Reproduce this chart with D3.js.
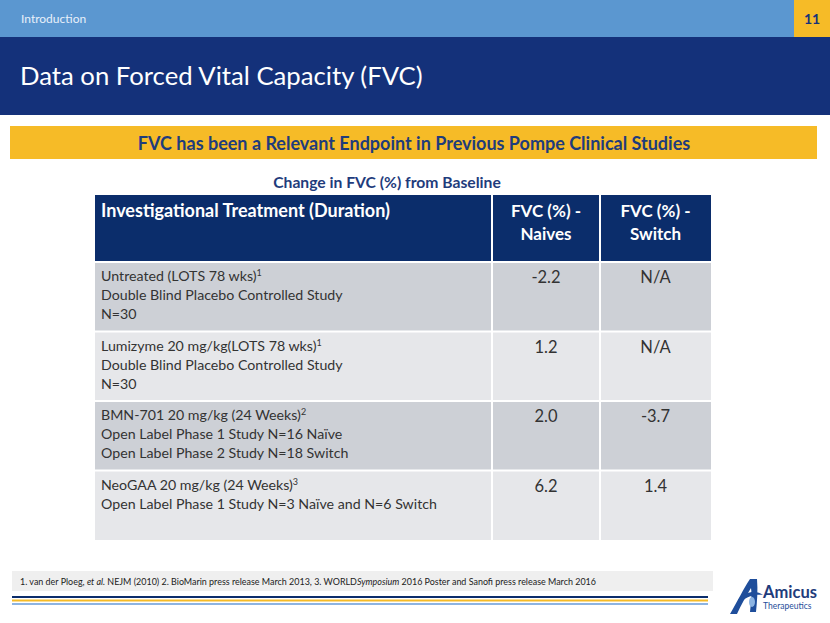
<!DOCTYPE html>
<html>
<head>
<meta charset="utf-8">
<script src="https://cdn.jsdelivr.net/npm/d3@7"></script>
<style>
  html, body { margin: 0; padding: 0; background: #fff; }
  svg { display: block; font-family: Lato, "Open Sans", sans-serif; }
</style>
</head>
<body>
<svg id="slide" width="830" height="623"></svg>
<script>
// ---------- data ----------
const sectionLabel = "Introduction";
const pageNumber = "11";
const slideTitle = "Data on Forced Vital Capacity (FVC)";
const bannerText = "FVC has been a Relevant Endpoint in Previous Pompe Clinical Studies";
const tableTitle = "Change in FVC (%) from Baseline";
const columnHeaders = [["Investigational Treatment (Duration)"], ["FVC (%) -", "Naives"], ["FVC (%) -", "Switch"]];
const treatments = [
  "Untreated (LOTS 78 wks)",
  "Lumizyme 20 mg/kg(LOTS 78 wks)",
  "BMN-701 20 mg/kg (24 Weeks)",
  "NeoGAA 20 mg/kg (24 Weeks)"
];
const references = ["1", "1", "2", "3"];
const studyDetails = [
  ["Double Blind Placebo Controlled Study", "N=30"],
  ["Double Blind Placebo Controlled Study", "N=30"],
  ["Open Label Phase 1 Study N=16 Naïve", "Open Label Phase 2 Study N=18 Switch"],
  ["Open Label Phase 1 Study N=3 Naïve and N=6 Switch"]
];
const naiveValues = [-2.2, 1.2, 2.0, 6.2];
const switchValues = [null, null, -3.7, 1.4];
const footnoteParts = [
  {t: "1. van der Ploeg, ", i: false}, {t: "et al.", i: true},
  {t: " NEJM (2010) 2. BioMarin press release March 2013, 3. WORLD", i: false},
  {t: "Symposium", i: true}, {t: " 2016 Poster and Sanofi press release March 2016", i: false}
];

// ---------- drawing ----------
const svg = d3.select("#slide");
const C = {
  lightBlue: "#5B97D0", orange: "#F6BB27", navy: "#14317A", header: "#0B2D6B",
  rowDark: "#CDD0D6", rowLight: "#E6E7EA", text: "#333333", banner: "#1F3C7C"
};

// top bar
svg.append("rect").attr("x", 0).attr("y", 0).attr("width", 830).attr("height", 37).attr("fill", C.lightBlue);
svg.append("rect").attr("x", 794).attr("y", 0).attr("width", 36).attr("height", 37).attr("fill", C.orange);
svg.append("text").attr("x", 21).attr("y", 23).attr("font-size", 12).attr("fill", "#E8F0FA").text(sectionLabel);
svg.append("text").attr("x", 812).attr("y", 24).attr("text-anchor", "middle").attr("font-size", 14)
  .attr("font-weight", "bold").attr("fill", C.navy).text(pageNumber);

// title band
svg.append("rect").attr("x", 0).attr("y", 37).attr("width", 830).attr("height", 78).attr("fill", C.navy);
svg.append("text").attr("x", 20).attr("y", 85).attr("font-size", 25.7).attr("fill", "#fff").text(slideTitle);

// banner
svg.append("rect").attr("x", 10).attr("y", 126).attr("width", 807).attr("height", 33).attr("fill", C.orange);
svg.append("text").attr("x", 414).attr("y", 150).attr("text-anchor", "middle").attr("font-size", 18)
  .attr("font-weight", "bold").attr("fill", C.banner).text(bannerText);

// table title
svg.append("text").attr("x", 387).attr("y", 188).attr("text-anchor", "middle").attr("font-size", 15.7)
  .attr("font-weight", "bold").attr("fill", C.banner).text(tableTitle);

// table scales
const colKeys = ["treatment", "naive", "switch"];
const colX = d3.scaleOrdinal().domain(colKeys).range([95, 492, 600]);
const colW = d3.scaleOrdinal().domain(colKeys).range([397, 108, 111]);
const rowY = d3.scaleBand().domain(d3.range(treatments.length)).range([262, 540]).paddingInner(0);
const fmt = d3.formatLocale({decimal: ".", thousands: ",", grouping: [3], currency: ["$", ""], minus: "-"}).format(".1f");

const table = svg.append("g");
// header
table.append("rect").attr("x", 95).attr("y", 195).attr("width", 616).attr("height", 67).attr("fill", C.header);
colKeys.forEach((k, i) => {
  const t = table.append("text").attr("font-size", i === 0 ? 18 : 17).attr("font-weight", "bold").attr("fill", "#fff")
    .attr("text-anchor", i === 0 ? "start" : "middle");
  columnHeaders[i].forEach((line, j) => t.append("tspan").attr("x", i === 0 ? colX(k) + 6 : colX(k) + colW(k) / 2)
    .attr("y", 217 + j * 23).text(line));
});

// rows
const rows = table.selectAll("g.row").data(treatments.map((t, i) => ({
  i, treatment: t, ref: references[i], details: studyDetails[i], naive: naiveValues[i], sw: switchValues[i]
}))).join("g").attr("class", "row");

colKeys.forEach(k => {
  rows.append("rect").attr("x", colX(k)).attr("y", d => rowY(d.i)).attr("width", colW(k)).attr("height", rowY.bandwidth())
    .attr("fill", d => d.i % 2 === 0 ? C.rowDark : C.rowLight);
});

const tx = rows.append("text").attr("font-size", 14.2).attr("fill", C.text);
tx.append("tspan").attr("x", 101).attr("y", d => rowY(d.i) + 19).text(d => d.treatment);
tx.append("tspan").attr("dy", -5).attr("font-size", 9).text(d => d.ref);
rows.each(function(d) {
  const t = d3.select(this).select("text");
  d.details.forEach((line, j) => t.append("tspan").attr("x", 101).attr("y", rowY(d.i) + 19 + (j + 1) * 19).text(line));
});

rows.append("text").attr("x", colX("naive") + colW("naive") / 2).attr("y", d => rowY(d.i) + 21)
  .attr("text-anchor", "middle").attr("font-size", 16.5).attr("fill", C.text).text(d => fmt(d.naive));
rows.append("text").attr("x", colX("switch") + colW("switch") / 2).attr("y", d => rowY(d.i) + 21)
  .attr("text-anchor", "middle").attr("font-size", 16.5).attr("fill", C.text).text(d => d.sw === null ? "N/A" : fmt(d.sw));

// white grid lines
const grid = table.append("g").attr("stroke", "#fff").attr("stroke-width", 2);
[492, 600].forEach(x => grid.append("line").attr("x1", x).attr("x2", x).attr("y1", 195).attr("y2", 540));
rowY.domain().forEach(i => grid.append("line").attr("x1", 95).attr("x2", 711).attr("y1", rowY(i)).attr("y2", rowY(i)));

// footnote
svg.append("rect").attr("x", 12).attr("y", 571).attr("width", 701).attr("height", 20).attr("fill", "#EFEFEF");
const fn = svg.append("text").attr("x", 20).attr("y", 585).attr("font-size", 8.95).attr("fill", "#222");
footnoteParts.forEach(p => fn.append("tspan").attr("font-style", p.i ? "italic" : "normal").text(p.t));
[[597, C.header], [600.5, C.orange], [604, "#8DB4E2"]].forEach(([y, c]) =>
  svg.append("line").attr("x1", 12).attr("x2", 708).attr("y1", y).attr("y2", y).attr("stroke", c).attr("stroke-width", 2));

// logo
const logo = svg.append("g");
logo.append("path").attr("d", "M730,614 C737,602 744,588 750,579 L757,579 C758,590 757,602 756,612 L750,612 C751,603 752,594 751,588 C746,596 741,605 737,614 Z")
  .attr("fill", "#1F4E9B");
logo.append("path").attr("d", "M738,600 C745,591 757,590 763,595 C756,594 747,596 741,602 Z").attr("fill", "#1F4E9B");
logo.append("ellipse").attr("cx", 752).attr("cy", 602).attr("rx", 3).attr("ry", 5).attr("fill", "#8DB4E2");
logo.append("text").attr("x", 763).attr("y", 598).attr("font-size", 16.5).attr("font-weight", "bold")
  .attr("fill", "#1F3C7C").text("Amicus");
logo.append("text").attr("x", 763).attr("y", 609).attr("font-size", 8.5).attr("fill", "#1F4E9B").text("Therapeutics");
</script>
</body>
</html>
